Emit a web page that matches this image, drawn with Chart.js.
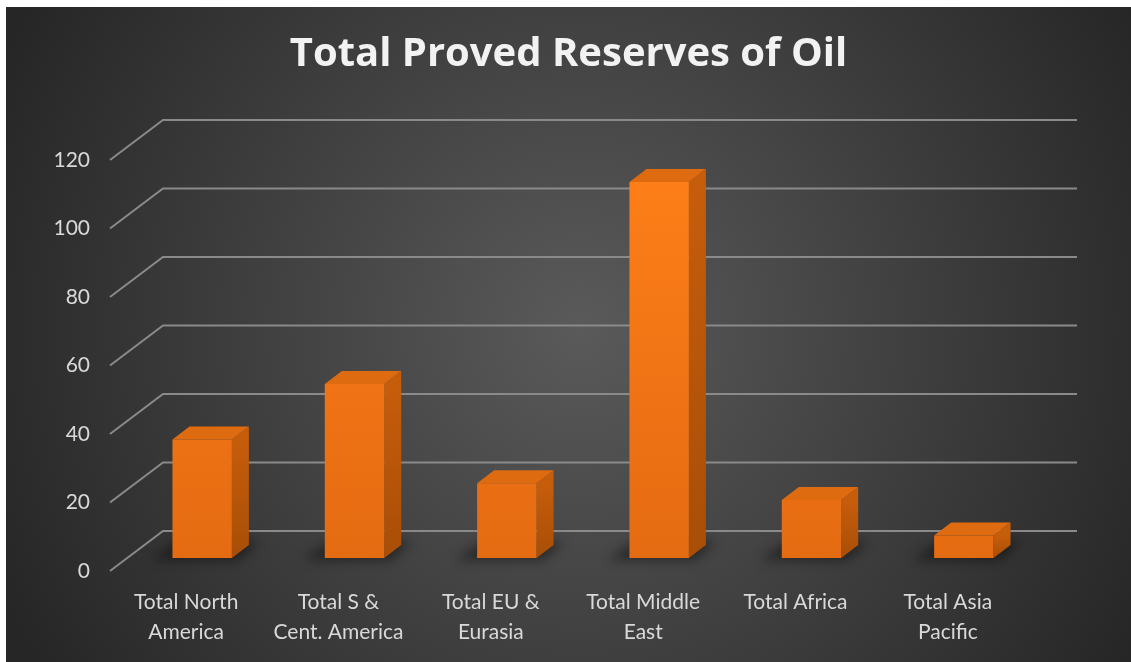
<!DOCTYPE html>
<html>
<head>
<meta charset="utf-8">
<script src="https://cdn.jsdelivr.net/npm/chart.js@4"></script>
<style>
  body { margin: 0; background: #ffffff; }
  #wrap { position: absolute; left: 6px; top: 7px; width: 1125px; height: 655px; }
</style>
</head>
<body>
<div id="wrap"><canvas id="myChart"></canvas></div>
<script>
// data
var categories = [
  ['Total North', 'America'],
  ['Total S &', 'Cent. America'],
  ['Total EU &', 'Eurasia'],
  ['Total Middle', 'East'],
  'Total Africa',
  ['Total Asia', 'Pacific']
];
var reserves = [34.6, 50.8, 21.8, 109.8, 16.9, 6.6];
var yMin = 0, yMax = 120, yStep = 20;

var plane = { dx: 53, dy: -40 };   // front edge -> back wall of the floor
var barShift = { dx: 16, dy: -13 }; // bars stand a bit inside the floor
var barDepth = { dx: 17, dy: -13 };

var textColor = "#d9d9d9";

var ctx = document.getElementById("myChart").getContext("2d");

// background + skewed gridlines + 3d parts of the bars
var fake3d = {
  id: "fake3d",
  beforeDraw: function (chart) {
    var c = chart.ctx;
    var w = chart.width, h = chart.height;
    var g = c.createRadialGradient(575, 320, 0, 575, 320, 640);
    g.addColorStop(0, "#5a5a5a");
    g.addColorStop(1, "#262626");
    c.save();
    c.fillStyle = g;
    c.fillRect(0, 0, w, h);
    c.restore();
  },
  beforeDatasetsDraw: function (chart) {
    var c = chart.ctx;
    var y = chart.scales.y;
    var area = chart.chartArea;
    c.save();
    c.strokeStyle = "#8a8a8a";
    c.lineWidth = 2;
    for (var v = yMin; v <= yMax; v += yStep) {
      var py = y.getPixelForValue(v);
      c.beginPath();
      c.moveTo(area.left, py);
      c.lineTo(area.left + plane.dx, py + plane.dy);
      c.lineTo(area.right + plane.dx, py + plane.dy);
      c.stroke();
    }
    c.restore();

    c.save();
    c.translate(barShift.dx, barShift.dy);
    var bars = chart.getDatasetMeta(0).data;
    bars.forEach(function (b) {
      var left = b.x - b.width / 2, right = b.x + b.width / 2;
      // floor shadow
      c.save();
      c.filter = "blur(6px)";
      c.fillStyle = "rgba(0,0,0,0.45)";
      c.beginPath();
      c.moveTo(left - 22, b.base + 2);
      c.lineTo(right + 6, b.base + 2);
      c.lineTo(right + barDepth.dx + 10, b.base + barDepth.dy - 4);
      c.lineTo(left + barDepth.dx - 10, b.base + barDepth.dy - 4);
      c.closePath();
      c.fill();
      c.restore();
      // right side
      var sg = c.createLinearGradient(0, b.y, 0, b.base);
      sg.addColorStop(0, "#c65d0b");
      sg.addColorStop(1, "#a84e07");
      c.fillStyle = sg;
      c.beginPath();
      c.moveTo(right, b.y);
      c.lineTo(right + barDepth.dx, b.y + barDepth.dy);
      c.lineTo(right + barDepth.dx, b.base + barDepth.dy);
      c.lineTo(right, b.base);
      c.closePath();
      c.fill();
      // top
      c.fillStyle = "#df6b10";
      c.beginPath();
      c.moveTo(left, b.y);
      c.lineTo(left + barDepth.dx, b.y + barDepth.dy);
      c.lineTo(right + barDepth.dx, b.y + barDepth.dy);
      c.lineTo(right, b.y);
      c.closePath();
      c.fill();
    });
    // keep the shift for the front faces drawn by chart.js
  },
  afterDatasetsDraw: function (chart) {
    chart.ctx.restore();
  }
};

function frontFace(context) {
  var chart = context.chart;
  var area = chart.chartArea;
  if (!area) return "#f57616";
  var g = chart.ctx.createLinearGradient(0, area.top, 0, area.bottom);
  g.addColorStop(0, "#ff8019");
  g.addColorStop(1, "#e56b12");
  return g;
}

var myChart = new Chart(ctx, {
  type: "bar",
  data: {
    labels: categories,
    datasets: [{
      label: "Total Proved Reserves of Oil",
      data: reserves,
      backgroundColor: frontFace,
      borderWidth: 0,
      barPercentage: 0.39,
      categoryPercentage: 1,
      clip: false
    }]
  },
  options: {
    responsive: true,
    maintainAspectRatio: false,
    animation: false,
    layout: { padding: 0 },
    plugins: {
      legend: { display: false },
      tooltip: { enabled: false },
      title: {
        display: true,
        text: "Total Proved Reserves of Oil",
        color: "#f2f2f2",
        font: { family: "Open Sans", size: 40, weight: "bold", lineHeight: 1.2 },
        padding: { top: 24, bottom: 81 }
      }
    },
    scales: {
      x: {
        grid: { display: false, drawTicks: false },
        border: { display: false },
        ticks: {
          color: textColor,
          font: { family: "Lato", size: 21, lineHeight: 1.43 },
          padding: 16,
          maxRotation: 0,
          autoSkip: false
        },
        afterFit: function (scale) { scale.height = 91; }
      },
      y: {
        min: yMin,
        max: yMax,
        grid: { display: false, drawTicks: false },
        border: { display: false },
        ticks: {
          stepSize: yStep,
          color: textColor,
          font: { family: "Lato", size: 21 },
          padding: 20
        },
        afterFit: function (scale) { scale.width = 104; }
      },
      // empty strip on the right, keeps the title centred on the whole picture
      yRight: {
        position: "right",
        min: yMin,
        max: yMax,
        grid: { display: false, drawTicks: false },
        border: { display: false },
        ticks: { display: false },
        afterFit: function (scale) { scale.width = 107; }
      }
    }
  },
  plugins: [fake3d]
});
</script>
</body>
</html>
